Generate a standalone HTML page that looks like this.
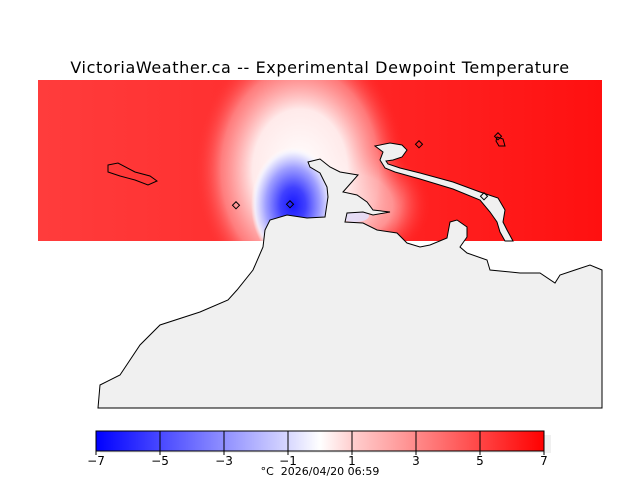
<!DOCTYPE html>
<html><head><meta charset="utf-8"><style>
html,body{margin:0;padding:0;background:#fff;}
svg{display:block;font-family:"DejaVu Sans","Liberation Sans",sans-serif;}
</style></head><body>
<svg width="640" height="480" viewBox="0 0 640 480" xmlns="http://www.w3.org/2000/svg">
<defs>
<radialGradient id="wh" cx="300" cy="170" r="1" gradientUnits="userSpaceOnUse" gradientTransform="translate(300 170) scale(105 135) translate(-300 -170)">
<stop offset="0" stop-color="#fff" stop-opacity="1"/>
<stop offset="0.45" stop-color="#fff4f4" stop-opacity="0.95"/>
<stop offset="0.75" stop-color="#ffb0b0" stop-opacity="0.6"/>
<stop offset="1" stop-color="#ff3030" stop-opacity="0"/>
</radialGradient>
<radialGradient id="wh2" cx="355" cy="205" r="1" gradientUnits="userSpaceOnUse" gradientTransform="translate(355 205) scale(75 60) translate(-355 -205)">
<stop offset="0" stop-color="#fff" stop-opacity="0.95"/>
<stop offset="0.5" stop-color="#ffd8d8" stop-opacity="0.7"/>
<stop offset="1" stop-color="#ff3030" stop-opacity="0"/>
</radialGradient>
<radialGradient id="bl" cx="293" cy="205" r="1" gradientUnits="userSpaceOnUse" gradientTransform="translate(293 205) scale(42 58) translate(-293 -205)">
<stop offset="0" stop-color="#1818ff"/>
<stop offset="0.3" stop-color="#4040ff"/>
<stop offset="0.65" stop-color="#a0a0ff"/>
<stop offset="0.9" stop-color="#f0f0ff" stop-opacity="0.9"/>
<stop offset="1" stop-color="#ffffff" stop-opacity="0"/>
</radialGradient>
<linearGradient id="lr" x1="38" y1="0" x2="602" y2="0" gradientUnits="userSpaceOnUse">
<stop offset="0" stop-color="#ff3c3c"/>
<stop offset="0.35" stop-color="#ff3030"/>
<stop offset="0.7" stop-color="#ff2020"/>
<stop offset="1" stop-color="#ff1010"/>
</linearGradient>
<linearGradient id="cb" x1="96" y1="0" x2="544" y2="0" gradientUnits="userSpaceOnUse">
<stop offset="0" stop-color="#0000ff"/>
<stop offset="0.43" stop-color="#d8d8ff"/>
<stop offset="0.5" stop-color="#ffffff"/>
<stop offset="0.57" stop-color="#ffd0d0"/>
<stop offset="1" stop-color="#ff0000"/>
</linearGradient>
<clipPath id="fc"><rect x="38" y="80" width="564" height="161"/></clipPath>
</defs>
<text x="320" y="73" text-anchor="middle" font-size="16" letter-spacing="0.6" fill="#000">VictoriaWeather.ca -- Experimental Dewpoint Temperature</text>
<g clip-path="url(#fc)">
<rect x="38" y="80" width="564" height="161" fill="url(#lr)"/>
<ellipse cx="355" cy="205" rx="75" ry="60" fill="url(#wh2)"/>
<ellipse cx="300" cy="170" rx="105" ry="135" fill="url(#wh)"/>
<ellipse cx="293" cy="205" rx="42" ry="58" fill="url(#bl)"/>
<ellipse cx="355" cy="216" rx="14" ry="6" fill="#e0e0ff" opacity="0.8"/>
</g>
<path d="M98,408 L100,385 L120,375 L140,345 L160,325 L200,312 L228,300 L237,290 L253,270 L263,247 L265,230 L270,220 L287,215 L307,218 L325,217 L328,197 L327,187 L320,173 L310,167 L308,162 L320,159 L330,167 L340,172 L358,175 L343,192 L357,195 L367,202 L373,210 L390,212 L373,215 L363,212 L347,213 L345,222 L363,223 L377,230 L397,233 L407,243 L420,247 L430,245 L447,238 L450,222 L457,220 L467,227 L467,237 L460,247 L467,253 L487,260 L490,270 L520,273 L540,273 L555,283 L560,275 L575,270 L590,265 L602,270 L602,408 Z" fill="#f0f0f0" stroke="#000" stroke-width="1"/>
<path d="M375,146 L390,143 L402,145 L407,150 L402,157 L393,160 L386,161 L388,164 L400,168 L420,173 L453,182 L480,192 L498,198 L505,210 L503,222 L507,230 L513,241 L505,241 L500,232 L497,222 L490,212 L480,200 L453,189 L420,179 L395,172 L385,168 L380,160 L383,152 Z" fill="#f0f0f0" stroke="#000" stroke-width="1"/>
<path d="M108,165 L118,163 L135,172 L150,176 L157,181 L148,185 L135,180 L120,176 L108,172 Z" fill="none" stroke="#000" stroke-width="1"/>
<path d="M497,137 L503,139 L505,146 L499,146 L496,141 Z" fill="none" stroke="#000" stroke-width="1"/>
<g fill="none" stroke="#000" stroke-width="1">
<rect x="233" y="203" width="5" height="5" transform="rotate(45 236 206)"/>
<rect x="287" y="202" width="5" height="5" transform="rotate(45 290 205)"/>
<rect x="416" y="142" width="5" height="5" transform="rotate(45 419 145)"/>
<rect x="495" y="134" width="5" height="5" transform="rotate(45 498 137)"/>
<rect x="481" y="194" width="5" height="5" transform="rotate(45 484 197)"/>
</g>
<rect x="100" y="435" width="451" height="18" fill="#f0f0f0"/>
<rect x="96" y="431" width="448" height="20" fill="url(#cb)" stroke="#000" stroke-width="1"/>
<g stroke="#000" stroke-width="1">
<line x1="160" y1="431" x2="160" y2="455"/><line x1="224" y1="431" x2="224" y2="455"/>
<line x1="288" y1="431" x2="288" y2="455"/><line x1="352" y1="431" x2="352" y2="455"/>
<line x1="416" y1="431" x2="416" y2="455"/><line x1="480" y1="431" x2="480" y2="455"/>
<line x1="96" y1="451" x2="96" y2="455"/><line x1="544" y1="451" x2="544" y2="455"/>
</g>
<g font-size="12" text-anchor="middle" fill="#000">
<text x="96" y="465">−7</text><text x="160" y="465">−5</text><text x="224" y="465">−3</text>
<text x="288" y="465">−1</text><text x="352" y="465">1</text><text x="416" y="465">3</text>
<text x="480" y="465">5</text><text x="544" y="465">7</text>
<text x="320" y="475" font-size="11" xml:space="preserve">°C  2026/04/20 06:59</text>
</g>
</svg>
</body></html>
